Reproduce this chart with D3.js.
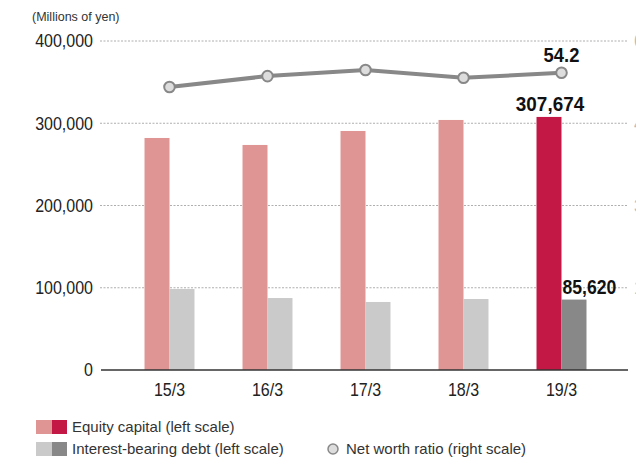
<!DOCTYPE html>
<html><head><meta charset="utf-8">
<script src="https://cdn.jsdelivr.net/npm/d3@7"></script>
<style>
body{margin:0;background:#fff;}
svg{display:block;}
text{font-family:"Liberation Sans",Arial,sans-serif;}
</style></head>
<body>
<svg id="c" width="636" height="457"></svg>
<script>
const categories = ["15/3","16/3","17/3","18/3","19/3"];
const equity = [282100, 273600, 290600, 304000, 307674];
const debt = [98500, 87500, 82700, 86300, 85620];
const ratio = [51.6, 53.6, 54.7, 53.3, 54.2];
const leftTicks = [0, 100000, 200000, 300000, 400000];
const rightTicks = [0, 15, 30, 45, 60];

const svg = d3.select("#c");
const y = d3.scaleLinear().domain([0, 400000]).range([370, 41]);
const yR = d3.scaleLinear().domain([0, 60]).range([370, 41]);
const x = d3.scaleBand().domain(categories).range([120.5, 610.5]).paddingInner(0.49).paddingOuter(0.245);
const sub = d3.scaleBand().domain(["equity","debt"]).range([0, x.bandwidth()]);
const fmt = d3.format(",");
const last = categories.length - 1;
const SX = 0.89; // condensed look

function condText(g, tx, ty, str, opts) {
  const t = g.append("g").attr("transform", `translate(${tx},${ty}) scale(${opts.sx || SX},1)`)
    .append("text").attr("font-size", opts.size).attr("fill", opts.fill || "#222")
    .attr("text-anchor", opts.anchor || "start").attr("dy", opts.dy || 0)
    .attr("font-weight", opts.weight || "normal").text(str);
  return t;
}

// gridlines
svg.append("g").selectAll("line").data(leftTicks.filter(d => d > 0)).join("line")
  .attr("x1", 100).attr("x2", 628).attr("y1", d => y(d)).attr("y2", d => y(d))
  .attr("stroke", "#9a9a9a").attr("stroke-width", 0.8).attr("stroke-dasharray", "2,1.5");

// left axis labels
const gl = svg.append("g");
leftTicks.forEach(v => condText(gl, 93, y(v), fmt(v), {size: 18, anchor: "end", dy: "0.35em"}));

// right axis labels (mostly outside the view, as in the reference)
const gr = svg.append("g");
rightTicks.filter(d => d > 0).forEach(v => condText(gr, 634, yR(v), String(v), {size: 18, dy: "0.35em", fill: "#bbb"}));

// bars
const groups = svg.append("g").selectAll("g").data(categories).join("g")
  .attr("transform", d => `translate(${x(d)},0)`);
groups.append("rect").attr("x", sub("equity")).attr("width", sub.bandwidth())
  .attr("y", (d, i) => y(equity[i])).attr("height", (d, i) => y(0) - y(equity[i]))
  .attr("fill", (d, i) => i === last ? "#c31845" : "#de9594");
groups.append("rect").attr("x", sub("debt")).attr("width", sub.bandwidth())
  .attr("y", (d, i) => y(debt[i])).attr("height", (d, i) => y(0) - y(debt[i]))
  .attr("fill", (d, i) => i === last ? "#888888" : "#c9cac9");

// baseline
svg.append("line").attr("x1", 101).attr("x2", 628).attr("y1", y(0)).attr("y2", y(0))
  .attr("stroke", "#333").attr("stroke-width", 1.6);

// x axis labels
const cx = d => x(d) + x.bandwidth() / 2;
const gx = svg.append("g");
categories.forEach(c => condText(gx, cx(c), 396, c, {size: 18, anchor: "middle"}));

// line
const line = d3.line().x((d, i) => cx(categories[i])).y(d => yR(d));
svg.append("path").datum(ratio).attr("d", line).attr("fill", "none")
  .attr("stroke", "#888").attr("stroke-width", 4);
svg.append("g").selectAll("circle").data(ratio).join("circle")
  .attr("cx", (d, i) => cx(categories[i])).attr("cy", d => yR(d)).attr("r", 5.3)
  .attr("fill", "#dcdddc").attr("stroke", "#888").attr("stroke-width", 2);

// value labels
const gv = svg.append("g");
condText(gv, cx(categories[last]), yR(ratio[last]) - 11, ratio[last].toFixed(1), {size: 20, anchor: "middle", weight: "bold", fill: "#111", sx: 0.92});
condText(gv, x(categories[last]) + sub("equity") + sub.bandwidth() / 2 + 1, y(equity[last]) - 6, fmt(equity[last]), {size: 21, anchor: "middle", weight: "bold", fill: "#111", sx: 0.9});
condText(gv, x(categories[last]) + sub("debt") + 1, y(debt[last]) - 6, fmt(debt[last]), {size: 20, weight: "bold", fill: "#111", sx: 0.88});

// unit label
svg.append("text").attr("x", 32).attr("y", 21).attr("font-size", 12.5).attr("fill", "#333")
  .text("(Millions of yen)");

// legend
const leg = svg.append("g");
const legRows = [
  {label: "Equity capital (left scale)", c: ["#de9594", "#c31845"], y: 420},
  {label: "Interest-bearing debt (left scale)", c: ["#c9cac9", "#888888"], y: 442}
];
legRows.forEach(r => {
  leg.append("rect").attr("x", 36).attr("y", r.y).attr("width", 16).attr("height", 14).attr("fill", r.c[0]);
  leg.append("rect").attr("x", 52).attr("y", r.y).attr("width", 15).attr("height", 14).attr("fill", r.c[1]);
  leg.append("text").attr("x", 72).attr("y", r.y + 7).attr("dy", "0.35em").attr("font-size", 15)
    .attr("fill", "#333").text(r.label);
});
leg.append("circle").attr("cx", 333).attr("cy", 449).attr("r", 5).attr("fill", "#dcdddc").attr("stroke", "#888").attr("stroke-width", 1.5);
leg.append("text").attr("x", 346).attr("y", 449).attr("dy", "0.35em").attr("font-size", 15)
  .attr("fill", "#333").text("Net worth ratio (right scale)");
</script>
</body></html>
